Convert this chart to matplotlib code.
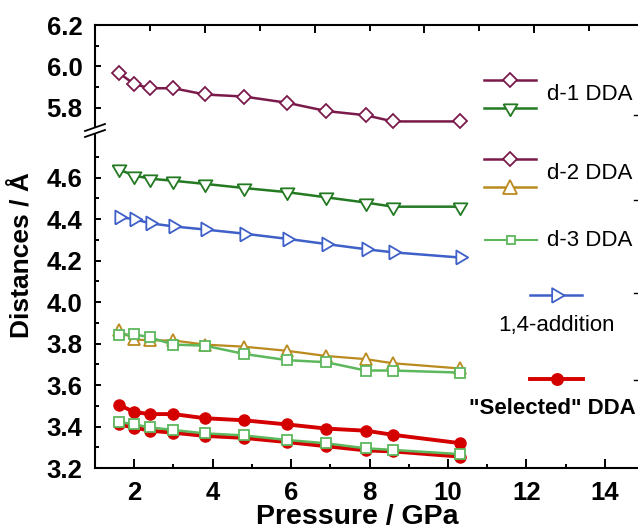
import numpy as np
import matplotlib
matplotlib.use('Agg')
import matplotlib.pyplot as plt
from matplotlib.lines import Line2D
from matplotlib.patches import Rectangle

# ---------------- data ----------------
pressure = [1.6, 2.0, 2.4, 3.0, 3.8, 4.8, 5.9, 6.9, 7.9, 8.6, 10.3]
d1_diamond = [5.97, 5.915, 5.895, 5.895, 5.865, 5.855, 5.825, 5.785, 5.765, 5.735, 5.735]
d1_down_tri = [4.64, 4.61, 4.595, 4.585, 4.57, 4.55, 4.53, 4.505, 4.48, 4.46, 4.46]
add14_right_tri = [4.41, 4.40, 4.38, 4.365, 4.35, 4.33, 4.305, 4.28, 4.255, 4.24, 4.215]
d2_up_tri = [3.865, 3.82, 3.815, 3.815, 3.795, 3.785, 3.765, 3.74, 3.725, 3.705, 3.68]
d3_square_upper = [3.84, 3.845, 3.83, 3.795, 3.79, 3.75, 3.72, 3.71, 3.67, 3.67, 3.66]
selected_upper = [3.505, 3.47, 3.46, 3.46, 3.44, 3.43, 3.41, 3.39, 3.38, 3.36, 3.32]
selected_lower = [3.41, 3.395, 3.38, 3.37, 3.355, 3.345, 3.325, 3.305, 3.285, 3.28, 3.255]
d3_square_lower = [3.423, 3.41, 3.396, 3.383, 3.367, 3.357, 3.335, 3.319, 3.295, 3.287, 3.267]

y_major = [3.2, 3.4, 3.6, 3.8, 4.0, 4.2, 4.4, 4.6, 5.8, 6.0, 6.2]
y_minor = [3.3, 3.5, 3.7, 3.9, 4.1, 4.3, 4.5, 4.7, 5.9, 6.1]
x_major = [2, 4, 6, 8, 10, 12, 14]
x_minor = [3, 5, 7, 9, 11, 13]

legend_labels = ["d-1 DDA", "d-2 DDA", "d-3 DDA", "1,4-addition", '"Selected" DDA']

# ---------------- style ----------------
plt.rcParams['font.family'] = ['Liberation Sans', 'DejaVu Sans']
purple = '#7A1A4A'
dgreen = '#237A23'
blue = '#3F60C8'
gold = '#BA8A1E'
lgreen = '#5DB85D'
red = '#D40000'

W, H = 638, 531
fig = plt.figure(figsize=(W / 100, H / 100), dpi=100)
ax = fig.add_axes([95 / W, (H - 468) / H, 549 / W, 443 / H])

# broken axis as a function scale
b1, gap, eps = 4.83, 0.865, 1e-3


def fwd(y):
    y = np.asarray(y, dtype=float)
    return np.where(y <= b1, y,
                    np.where(y <= b1 + gap, b1 + (y - b1) * eps / gap, y - gap + eps))


def inv(t):
    t = np.asarray(t, dtype=float)
    return np.where(t <= b1, t,
                    np.where(t <= b1 + eps, b1 + (t - b1) * gap / eps, t + gap - eps))


ax.set_yscale('function', functions=(fwd, inv))
ax.set_xlim(1, 15)
ax.set_ylim(3.2, 6.2)


def tri(kind):
    if kind == 'down':
        return [(-1, 0.6), (1, 0.6), (0, -1.1), (-1, 0.6)]
    return [(-0.6, -1), (-0.6, 1), (1.1, 0), (-0.6, -1)]


mew = 1.3
ax.plot(pressure, d1_diamond, color=purple, lw=1.8, marker='D', ms=7.6,
        mfc='white', mec=purple, mew=mew, zorder=3)
ax.plot(pressure, d1_down_tri, color=dgreen, lw=1.8, marker=tri('down'), ms=11,
        mfc='white', mec=dgreen, mew=mew, zorder=3)
ax.plot(pressure, add14_right_tri, color=blue, lw=1.8, marker=tri('right'), ms=11,
        mfc='white', mec=blue, mew=mew, zorder=3)
ax.plot(pressure, d2_up_tri, color=gold, lw=1.6, marker='^', ms=8.5,
        mfc='white', mec=gold, mew=mew, zorder=3)
ax.plot(pressure, d3_square_upper, color=lgreen, lw=1.8, marker='s', ms=7.5,
        mfc='white', mec=lgreen, mew=mew, zorder=4)
ax.plot(pressure, selected_upper, color=red, lw=2.8, marker='o', ms=8,
        mfc=red, mec=red, zorder=4)
ax.plot(pressure, selected_lower, color=red, lw=2.8, marker='o', ms=8,
        mfc=red, mec=red, zorder=4)
ax.plot(pressure, d3_square_lower, color=lgreen, lw=1.8, marker='s', ms=7.5,
        mfc='white', mec=lgreen, mew=mew, zorder=5)

# ticks
ax.set_xticks(x_major)
ax.set_xticks(x_minor, minor=True)
ax.set_yticks(y_major)
ax.set_yticks(y_minor, minor=True)
ax.set_yticklabels([f'{v:.1f}' for v in y_major])
ax.set_xticklabels([str(v) for v in x_major])
for lab in ax.get_xticklabels() + ax.get_yticklabels():
    lab.set_fontweight('bold')
ax.tick_params(axis='both', which='both', direction='in', width=1.4, labelsize=18.5)
ax.tick_params(axis='x', which='major', length=6.5, pad=9)
ax.tick_params(axis='x', which='minor', length=3)
ax.tick_params(axis='y', which='major', length=4.5, pad=9)
ax.tick_params(axis='y', which='minor', length=3.2)
ax.tick_params(top=False, right=False)
for s in ax.spines.values():
    s.set_linewidth(1.5)

ax2 = ax.twiny()
ax2.set_xlim(1, 15)
ax2.set_xticks([1 + 2.8 * k for k in range(1, 5)])
ax2.set_xticks([2.4 + 2.8 * k for k in range(0, 5)], minor=True)
ax2.tick_params(axis='x', which='both', direction='in', width=1.4, labeltop=False)
ax2.tick_params(axis='x', which='major', length=5.5)
ax2.tick_params(axis='x', which='minor', length=4.5)
for s in ax2.spines.values():
    s.set_visible(False)

# axis break marks
def fx(px):
    return px / W


def fy(py):
    return 1 - py / H


fig.add_artist(Rectangle((fx(92), fy(134)), 6 / W, 7 / H, transform=fig.transFigure,
                         facecolor='white', edgecolor='none', zorder=10))
for y0 in (131, 137):
    fig.add_artist(Line2D([fx(85), fx(105)], [fy(y0), fy(y0 - 7)], color='black',
                          lw=1.3, transform=fig.transFigure, zorder=11))

# axis labels
fig.text(fx(22), fy(255), 'Distances / Å', rotation=90, ha='center', va='center',
         fontsize=19, fontweight='bold')
fig.text(fx(357), fy(530), 'Pressure / GPa', ha='center', va='bottom',
         fontsize=20.5, fontweight='bold')

# legend (manual)
def leg_line(x0, x1, y, color, marker, ms, lw=1.8, mfc='white'):
    fig.add_artist(Line2D([fx(x0), fx(x1)], [fy(y), fy(y)], color=color, lw=lw,
                          transform=fig.transFigure, zorder=6))
    fig.add_artist(Line2D([fx((x0 + x1) / 2)], [fy(y)], color=color, marker=marker,
                          ms=ms, mfc=mfc, mec=color, mew=mew, lw=0,
                          transform=fig.transFigure, zorder=7))


leg_line(484, 536, 80, purple, 'D', 7.6)
leg_line(484, 536, 108, dgreen, tri('down'), 11)
leg_line(484, 536, 159, purple, 'D', 7.6)
leg_line(484, 536, 187, gold, '^', 9.5)
leg_line(485, 537, 240, lgreen, 's', 6.2, lw=1.5)
leg_line(530, 582, 295, blue, tri('right'), 11.5)
leg_line(530, 583, 379, red, 'o', 8, lw=2.8, mfc=red)

fs = 16
fig.text(fx(547), fy(94), legend_labels[0], ha='left', va='center', fontsize=fs, fontweight='normal')
fig.text(fx(547), fy(173), legend_labels[1], ha='left', va='center', fontsize=fs, fontweight='normal')
fig.text(fx(547), fy(240), legend_labels[2], ha='left', va='center', fontsize=fs, fontweight='normal')
fig.text(fx(557), fy(325), legend_labels[3], ha='center', va='center', fontsize=fs, fontweight='normal')
fig.text(fx(469), fy(408), legend_labels[4], ha='left', va='center', fontsize=fs, fontweight='bold')

for yy in (115, 200, 293, 380):
    fig.add_artist(Line2D([fx(634), fx(638)], [fy(yy), fy(yy)], color='black', lw=1.0,
                          transform=fig.transFigure, zorder=6))

fig.savefig('out.png', dpi=100)
